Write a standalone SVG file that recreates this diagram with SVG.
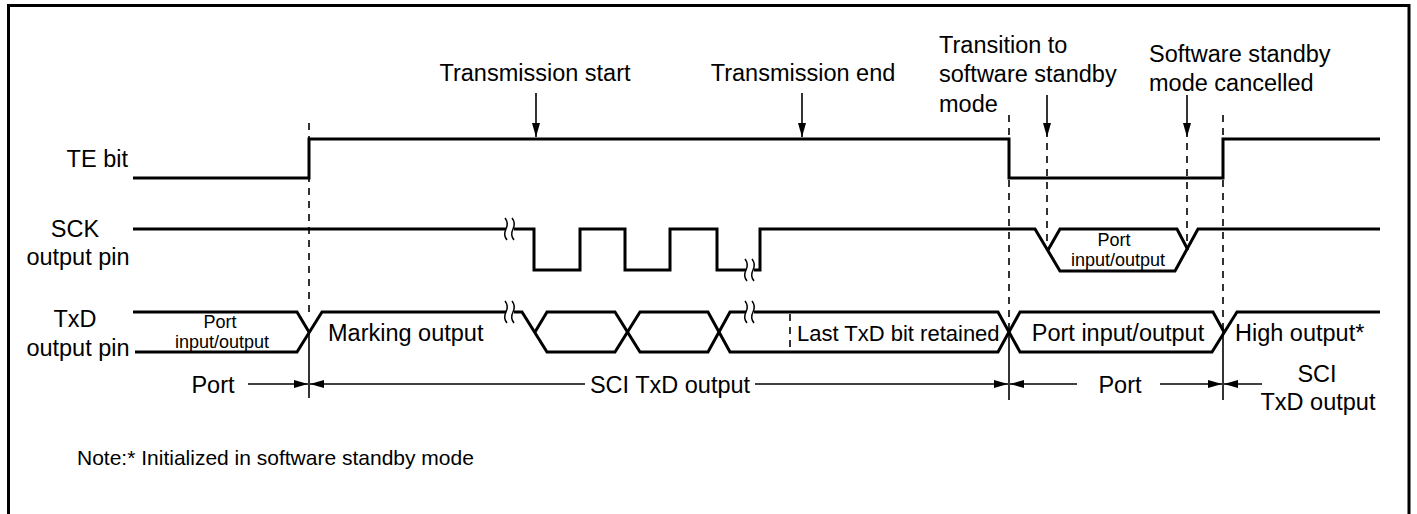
<svg xmlns="http://www.w3.org/2000/svg" width="1417" height="514" viewBox="0 0 1417 514">
<style>
text{font-family:"Liberation Sans",Arial,sans-serif;fill:#000;font-size:23.5px}
.sm{font-size:18px}
.note{font-size:21px}
.lt{font-size:22px}
.mid{text-anchor:middle}
.end{text-anchor:end}
.sig{fill:none;stroke:#000;stroke-width:3;stroke-linejoin:miter}
.dash{fill:none;stroke:#000;stroke-width:1.6;stroke-dasharray:7 6}
.thin{fill:none;stroke:#000;stroke-width:1.6}
.arr{fill:none;stroke:#000;stroke-width:1.6;marker-end:url(#ah)}
.brk{fill:none;stroke:#000;stroke-width:1.5}
</style>
<defs>
<marker id="ah" viewBox="0 0 14 8" refX="14" refY="4" markerWidth="14" markerHeight="8" markerUnits="userSpaceOnUse" orient="auto"><path d="M0,0 L14,4 L0,8 z" fill="#000"/></marker>
<g id="brk">
<rect x="-4" y="-3" width="8" height="6" fill="#fff"/>
<path class="brk" d="M-5,-11 Q-1,-6 -4,0 Q-7,6 -3,11"/>
<path class="brk" d="M2,-11 Q6,-6 3,0 Q0,6 4,11"/>
</g>
</defs>
<rect width="1417" height="514" fill="#fff"/>
<path d="M8.5,520 V5.5 H1409 V520" fill="none" stroke="#000" stroke-width="3"/>

<g id="labels">
<text class="end" x="128" y="167">TE bit</text>
<text class="mid" x="75" y="237">SCK</text>
<text class="mid" x="78" y="265">output pin</text>
<text class="mid" x="75" y="327">TxD</text>
<text class="mid" x="78" y="356">output pin</text>
</g>

<g id="events">
<text class="mid" x="535" y="81">Transmission start</text>
<text class="mid" x="803" y="81">Transmission end</text>
<text x="939" y="53">Transition to</text>
<text x="939" y="82">software standby</text>
<text x="939" y="112">mode</text>
<text x="1149" y="62">Software standby</text>
<text x="1149" y="91">mode cancelled</text>
</g>

<g id="te-bit">
<polyline class="sig" points="133,178 309,178 309,139 1009,139 1009,178 1223,178 1223,139 1380,139"/>
</g>

<g id="sck">
<polyline class="sig" points="133,229 534,229 534,270 580,270 580,229 625,229 625,270 670,270 670,229 717,229 717,270 760,270 760,229 1035,229 1060,271 1175,271 1198,229 1380,229"/>
<polyline class="sig" points="1048,250 1060,229 1177,229 1188,250"/>
<use href="#brk" x="510" y="229"/>
<use href="#brk" x="750" y="270"/>
<text class="sm mid" x="1114" y="246">Port</text>
<text class="sm mid" x="1118" y="266">input/output</text>
</g>

<g id="txd">
<polyline class="sig" points="133,312 297,312 309,332"/>
<polyline class="sig" points="135,352 297,352 322,312 522,312 547,352 615,352 640,312 708,312 730,352 998,352 1020,312 1213,312 1224,332"/>
<polyline class="sig" points="535,332 547,312 615,312 640,352 708,352 730,312 998,312 1020,352 1212,352 1237,312 1380,312"/>
<use href="#brk" x="510" y="312"/>
<use href="#brk" x="750" y="312"/>
<text class="sm mid" x="220" y="328">Port</text>
<text class="sm mid" x="222" y="348">input/output</text>
<text x="328" y="341">Marking output</text>
<text class="lt" x="797" y="341">Last TxD bit retained</text>
<text class="mid" x="1118" y="341">Port input/output</text>
<text x="1235" y="341">High output*</text>
</g>

<g id="connectors">
<line class="dash" x1="309" y1="123" x2="309" y2="312"/>
<line class="thin" x1="309" y1="332" x2="309" y2="398"/>
<line class="dash" x1="1009" y1="115" x2="1009" y2="332"/>
<line class="thin" x1="1009" y1="332" x2="1009" y2="400"/>
<line class="dash" x1="1223" y1="115" x2="1223" y2="332"/>
<line class="thin" x1="1223" y1="332" x2="1223" y2="400"/>
<line class="dash" x1="1047" y1="143" x2="1047" y2="245"/>
<line class="dash" x1="1187" y1="143" x2="1187" y2="245"/>
<line class="dash" x1="790" y1="314" x2="790" y2="350"/>
<line class="arr" x1="536" y1="93" x2="536" y2="137"/>
<line class="arr" x1="802" y1="93" x2="802" y2="137"/>
<line class="arr" x1="1047" y1="95" x2="1047" y2="137"/>
<line class="arr" x1="1187" y1="95" x2="1187" y2="137"/>
<line class="arr" x1="248" y1="384" x2="308" y2="384"/>
<line class="arr" x1="585" y1="384" x2="310" y2="384"/>
<line class="arr" x1="755" y1="384" x2="1008" y2="384"/>
<line class="arr" x1="1077" y1="384" x2="1010" y2="384"/>
<line class="arr" x1="1160" y1="384" x2="1222" y2="384"/>
<line class="arr" x1="1262" y1="384" x2="1224" y2="384"/>
</g>

<g id="spans">
<text class="mid" x="213" y="393">Port</text>
<text class="mid" x="670" y="393">SCI TxD output</text>
<text class="mid" x="1120" y="393">Port</text>
<text class="mid" x="1317" y="382">SCI</text>
<text class="mid" x="1318" y="410">TxD output</text>
</g>

<g id="note">
<text class="note" x="77" y="465">Note:* Initialized in software standby mode</text>
</g>
</svg>
